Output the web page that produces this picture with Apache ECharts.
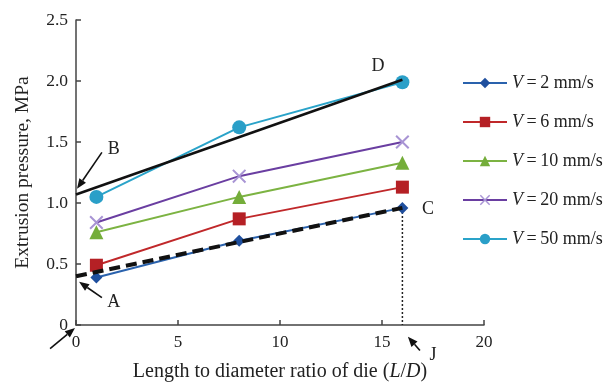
<!DOCTYPE html>
<html>
<head>
<meta charset="utf-8">
<script src="https://cdn.jsdelivr.net/npm/echarts@6/dist/echarts.min.js"></script>
<style>
html,body{margin:0;padding:0;background:#fff;}
#c{width:610px;height:387px;}
</style>
</head>
<body>
<div id="c"></div>
<script>
// ---- data ----
var ldRatio = [1, 8, 16];
var v2  = [0.39, 0.69, 0.96];
var v6  = [0.49, 0.87, 1.13];
var v10 = [0.76, 1.05, 1.33];
var v20 = [0.84, 1.22, 1.50];
var v50 = [1.05, 1.62, 1.99];
var seriesNames = ['V=2 mm/s', 'V=6 mm/s', 'V=10 mm/s', 'V=20 mm/s', 'V=50 mm/s'];
var fitBD = [[0, 1.07], [16, 2.01]];
var fitAC = [[0, 0.40], [16, 0.96]];
var dropJ = [[16, 0.96], [16, 0]];
var xTicks = [0, 5, 10, 15, 20];
var yTicks = [0, 0.5, 1.0, 1.5, 2.0, 2.5];
// annotation arrows (data coords): [tail, head]
var arrows = [
  [[1.27, 1.415], [0.05, 1.117]],
  [[1.27, 0.225], [0.15, 0.354]],
  [[-1.27, -0.193], [-0.05, -0.024]],
  [[16.86, -0.209], [16.27, -0.096]]
];
var labels = [
  ['B', [1.85, 1.44]],
  ['A', [1.85, 0.185]],
  ['C', [17.25, 0.95]],
  ['D', [14.8, 2.12]],
  ['J', [17.5, -0.25]]
];

function pairs(ys){ return ldRatio.map(function(x,i){return [x, ys[i]];}); }

var font = '"Liberation Serif", "DejaVu Serif", serif';
var xSym = 'path://M0,1L1,0L5,4L9,0L10,1L6,5L10,9L9,10L5,6L1,10L0,9L4,5Z';

var chart = echarts.init(document.getElementById('c'), null, {renderer: 'canvas'});

function mk(name, ys, color, mcolor, symbol, size){
  return {
    name: name, type: 'line', data: pairs(ys),
    symbol: symbol, symbolSize: size,
    lineStyle: {color: color, width: 2},
    itemStyle: {color: mcolor},
    z: 3
  };
}

var option = {
  animation: false,
  backgroundColor: '#fff',
  grid: {left: 76, right: 126, top: 20, bottom: 56},
  legend: {
    orient: 'vertical', left: 462, top: 74, padding: 0,
    itemWidth: 44, itemHeight: 13, itemGap: 21,
    data: seriesNames,
    formatter: function(n){
      var rest = n.slice(2);
      return '{i|V}{t|\u2009=\u2009' + rest + '}';
    },
    textStyle: {
      fontFamily: font, fontSize: 18, color: '#222',
      rich: {
        i: {fontFamily: font, fontSize: 18, fontStyle: 'italic', color: '#222'},
        t: {fontFamily: font, fontSize: 18, color: '#222'}
      }
    }
  },
  xAxis: {
    type: 'value', min: 0, max: 20, interval: 5,
    name: '{r|Length to diameter ratio of die (}{i|L}{r|/}{i|D}{r|)}',
    nameLocation: 'middle', nameGap: 37,
    nameTextStyle: {
      rich: {
        r: {fontFamily: font, fontSize: 20, color: '#222'},
        i: {fontFamily: font, fontSize: 20, color: '#222', fontStyle: 'italic'}
      }
    },
    axisLine: {show: true, onZero: false, lineStyle: {color: '#444', width: 1.5}},
    axisTick: {show: true, inside: true, length: 5, lineStyle: {color: '#444', width: 1.5}},
    axisLabel: {fontFamily: font, fontSize: 17, color: '#222', margin: 9,
      formatter: function(v){ return xTicks.indexOf(v) >= 0 ? String(v) : ''; }},
    splitLine: {show: false}
  },
  yAxis: {
    type: 'value', min: 0, max: 2.5, interval: 0.5,
    name: 'Extrusion pressure, MPa',
    nameLocation: 'middle', nameGap: 43,
    nameTextStyle: {fontFamily: font, fontSize: 19.5, color: '#222'},
    axisLine: {show: true, onZero: false, lineStyle: {color: '#444', width: 1.5}},
    axisTick: {show: true, inside: true, length: 5, lineStyle: {color: '#444', width: 1.5}},
    axisLabel: {fontFamily: font, fontSize: 17.5, color: '#222', margin: 8,
      formatter: function(v){
        if (yTicks.indexOf(v) < 0) return '';
        return v === 0 ? '0' : v.toFixed(1);
      }},
    splitLine: {show: false}
  },
  series: [
    mk(seriesNames[0], v2, '#2a62ad', '#1f4f9e', 'diamond', 12),
    mk(seriesNames[1], v6, '#c0282a', '#b52025', 'rect', 13),
    mk(seriesNames[2], v10, '#7cb342', '#74ad3a', 'triangle', 14),
    mk(seriesNames[3], v20, '#6a3ea1', '#a894d4', xSym, 14),
    mk(seriesNames[4], v50, '#2aa3c9', '#2a9fc8', 'circle', 14),
    {
      name: 'fitBD', type: 'line', data: fitBD, symbol: 'none',
      lineStyle: {color: '#111', width: 2.5}, z: 4, silent: true
    },
    {
      name: 'fitAC', type: 'line', data: fitAC, symbol: 'none',
      lineStyle: {color: '#111', width: 4, type: [11, 6]}, z: 4, silent: true
    },
    {
      name: 'dropJ', type: 'line', data: dropJ, symbol: 'none',
      lineStyle: {color: '#222', width: 1.5, type: [2, 2]}, z: 2, silent: true
    }
  ]
};
chart.setOption(option);

// annotations positioned through the chart's coordinate system
function px(p){ return chart.convertToPixel({gridIndex: 0}, p); }
var g = [];
arrows.forEach(function(a){
  var t = px(a[0]), h = px(a[1]);
  var dx = h[0]-t[0], dy = h[1]-t[1], L = Math.sqrt(dx*dx+dy*dy);
  var ux = dx/L, uy = dy/L, hl = 10, hw = 4;
  var bx = h[0]-ux*hl, by = h[1]-uy*hl;
  g.push({type: 'line', shape: {x1: t[0], y1: t[1], x2: bx, y2: by},
    style: {stroke: '#111', lineWidth: 1.6}, z: 10});
  g.push({type: 'polygon', shape: {points: [[h[0],h[1]],[bx-uy*hw,by+ux*hw],[bx+uy*hw,by-ux*hw]]},
    style: {fill: '#111'}, z: 10});
});
labels.forEach(function(l){
  var p = px(l[1]);
  g.push({type: 'text', x: p[0], y: p[1], z: 10,
    style: {text: l[0], font: '18px ' + font, fill: '#222', align: 'center', verticalAlign: 'middle'}});
});
chart.setOption({graphic: g});
</script>
</body>
</html>
